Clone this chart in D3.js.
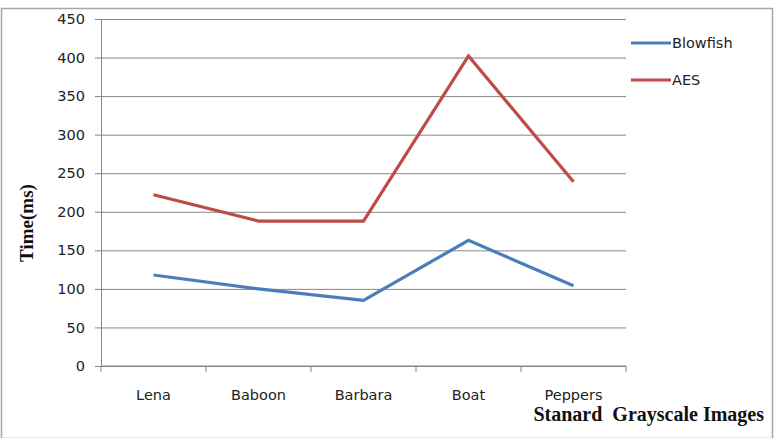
<!DOCTYPE html>
<html>
<head>
<meta charset="utf-8">
<script src="https://cdn.jsdelivr.net/npm/d3@7"></script>
<style>
  body { margin: 0; background: #fff; }
  svg { display: block; }
</style>
</head>
<body>
<div class="graph"></div>
<script>
let w = 775;
let h = 438;

let categories = ["Lena", "Baboon", "Barbara", "Boat", "Peppers"];
let blowfish = [118, 100, 85, 163, 104];
let aes = [222, 188, 188, 402, 239];
let yTicks = [0, 50, 100, 150, 200, 250, 300, 350, 400, 450];

let series = [
  { name: "Blowfish", values: blowfish, color: "#4a7ebb" },
  { name: "AES", values: aes, color: "#be4b48" }
];

let plotLeft = 101, plotRight = 626, plotTop = 19, plotBottom = 366;

let svg = d3
  .select(".graph")
  .append("svg")
  .attr("width", w)
  .attr("height", h);

// outer frame
svg
  .append("rect")
  .attr("x", 1.5)
  .attr("y", 8.5)
  .attr("width", 771)
  .attr("height", 430)
  .attr("fill", "none")
  .attr("stroke", "#a6a6a6")
  .attr("stroke-width", 1.5);

let xScale = d3.scaleBand().domain(categories).range([plotLeft, plotRight]);
let yScale = d3.scaleLinear().domain([0, 450]).range([plotBottom, plotTop]);

// gridlines + y axis
let yAxis = d3
  .axisLeft(yScale)
  .tickValues(yTicks)
  .tickSize(-(plotRight - plotLeft))
  .tickPadding(12)
  .tickSizeOuter(0);

let gy = svg
  .append("g")
  .attr("transform", "translate(" + plotLeft + ",0)")
  .call(yAxis);
gy.select(".domain").attr("stroke", "#868686");
gy.selectAll(".tick line")
  .attr("stroke", "#868686")
  .attr("x1", -6);
gy.selectAll(".tick text")
  .attr("x", -16)
  .style("font-family", "DejaVu Sans")
  .style("font-size", "14.5px")
  .attr("fill", "#222");

// x axis with boundary ticks
let gx = svg
  .append("g")
  .attr("transform", "translate(0," + plotBottom + ")");
gx.append("line")
  .attr("x1", plotLeft)
  .attr("x2", plotRight)
  .attr("stroke", "#868686");
let bounds = categories.map(function (c) { return xScale(c); }).concat([plotRight]);
gx.selectAll(".btick")
  .data(bounds)
  .enter()
  .append("line")
  .attr("x1", function (d) { return d; })
  .attr("x2", function (d) { return d; })
  .attr("y1", 0)
  .attr("y2", 6)
  .attr("stroke", "#868686");
gx.selectAll(".xlab")
  .data(categories)
  .enter()
  .append("text")
  .attr("x", function (d) { return xScale(d) + xScale.bandwidth() / 2; })
  .attr("y", 34)
  .attr("text-anchor", "middle")
  .style("font-family", "DejaVu Sans")
  .style("font-size", "14.5px")
  .attr("fill", "#222")
  .text(function (d) { return d; });

// lines
let line = d3
  .line()
  .x(function (d, i) { return xScale(categories[i]) + xScale.bandwidth() / 2; })
  .y(function (d) { return yScale(d); });

series.forEach(function (s) {
  svg
    .append("path")
    .datum(s.values)
    .attr("d", line)
    .attr("fill", "none")
    .attr("stroke", s.color)
    .attr("stroke-width", 3.2)
    .attr("stroke-linejoin", "miter");
});

// legend
let legend = svg
  .selectAll(".legend")
  .data(series)
  .enter()
  .append("g")
  .attr("transform", function (d, i) { return "translate(631," + (43 + i * 37) + ")"; });
legend
  .append("line")
  .attr("x1", 0)
  .attr("x2", 40)
  .attr("stroke", function (d) { return d.color; })
  .attr("stroke-width", 3.2);
legend
  .append("text")
  .attr("x", 41)
  .attr("y", 5)
  .style("font-family", "DejaVu Sans")
  .style("font-size", "14.5px")
  .attr("fill", "#222")
  .text(function (d) { return d.name; });

// axis titles
svg
  .append("text")
  .attr("transform", "translate(33,223) rotate(-90)")
  .attr("text-anchor", "middle")
  .style("font-family", "Liberation Serif")
  .style("font-weight", "bold")
  .style("font-size", "19px")
  .attr("fill", "#111")
  .text("Time(ms)");

svg
  .append("text")
  .attr("x", 764)
  .attr("y", 421)
  .attr("text-anchor", "end")
  .style("font-family", "Liberation Serif")
  .style("font-weight", "bold")
  .style("font-size", "20px")
  .style("white-space", "pre")
  .attr("fill", "#111")
  .text("Stanard  Grayscale Images");
</script>
</body>
</html>
